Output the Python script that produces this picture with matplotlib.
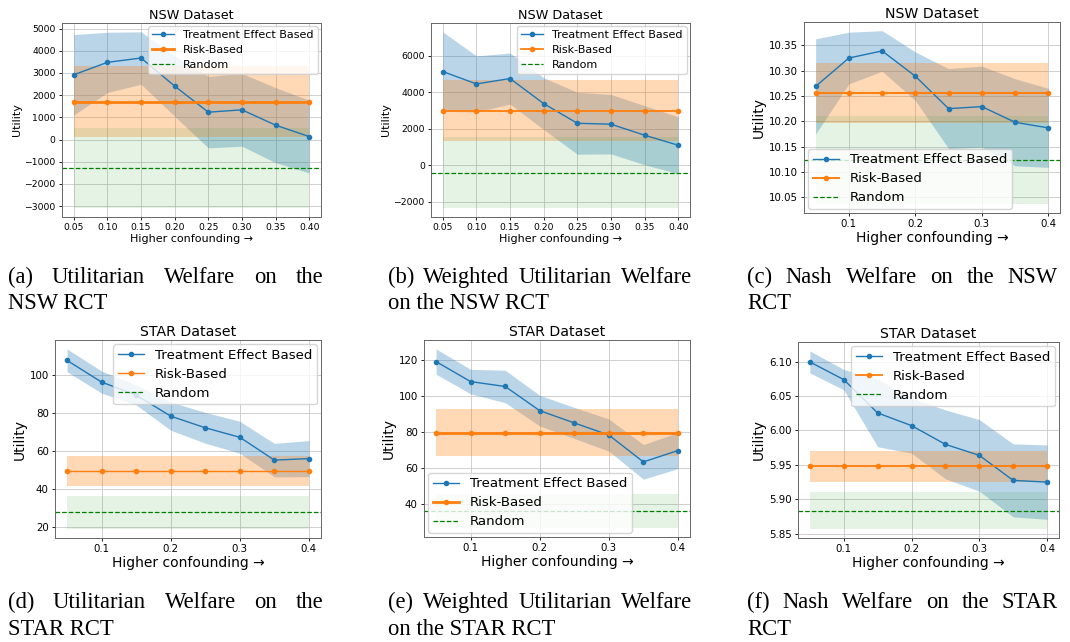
import matplotlib
matplotlib.use('Agg')
import matplotlib.pyplot as plt
from matplotlib.ticker import MultipleLocator
import numpy as np

confounding = [0.05, 0.10, 0.15, 0.20, 0.25, 0.30, 0.35, 0.40]
two_decimal_ticks = ['0.05', '0.10', '0.15', '0.20', '0.25', '0.30', '0.35', '0.40']

# NSW, utilitarian welfare
nsw_util_te = [2920, 3480, 3675, 2410, 1235, 1340, 650, 135]
nsw_util_te_std = [1810, 1355, 1180, 1360, 1610, 1640, 1690, 1640]
nsw_util_risk, nsw_util_risk_std = 1715, 1610
nsw_util_rand, nsw_util_rand_std = -1275, 1815

# NSW, weighted utilitarian welfare
nsw_wutil_te = [5140, 4460, 4755, 3380, 2300, 2250, 1645, 1095]
nsw_wutil_te_std = [2180, 1540, 1400, 1420, 1700, 1630, 1620, 1560]
nsw_wutil_risk, nsw_wutil_risk_std = 2990, 1665
nsw_wutil_rand, nsw_wutil_rand_std = -420, 1940

# NSW, Nash welfare
nsw_nash_te = [10.269, 10.325, 10.339, 10.289, 10.225, 10.229, 10.198, 10.187]
nsw_nash_te_std = [0.094, 0.051, 0.040, 0.048, 0.079, 0.080, 0.086, 0.078]
nsw_nash_risk, nsw_nash_risk_std = 10.256, 0.060
nsw_nash_rand, nsw_nash_rand_std = 10.123, 0.087

# STAR, utilitarian welfare
star_util_te = [107.7, 96.3, 89.5, 78.4, 72.3, 67.3, 55.3, 56.1]
star_util_te_std = [6.0, 5.8, 5.2, 7.4, 8.1, 8.4, 8.8, 9.5]
star_util_risk, star_util_risk_std = 49.6, 7.9
star_util_rand, star_util_rand_std = 27.85, 8.75

# STAR, weighted utilitarian welfare
star_wutil_te = [119.1, 108.0, 105.3, 91.9, 85.1, 78.4, 63.5, 69.8]
star_wutil_te_std = [7.0, 6.8, 9.0, 8.5, 8.6, 8.9, 9.6, 10.0]
star_wutil_risk, star_wutil_risk_std = 79.8, 12.8
star_wutil_rand, star_wutil_rand_std = 36.2, 9.35

# STAR, Nash welfare
star_nash_te = [6.0995, 6.0738, 6.0254, 6.0070, 5.9798, 5.9638, 5.9275, 5.9250]
star_nash_te_std = [0.0160, 0.0148, 0.049, 0.040, 0.050, 0.052, 0.053, 0.054]
star_nash_risk, star_nash_risk_std = 5.9477, 0.022
star_nash_rand, star_nash_rand_std = 5.8837, 0.0269

W, H = 1070, 642

fig = plt.figure(figsize=(W / 100, H / 100), dpi=100)


def add_axes_px(left, top, right, bottom):
    return fig.add_axes([left / W, 1 - bottom / H, (right - left) / W, (bottom - top) / H])


def plot_panel(ax, title, te, te_std, risk, risk_std, rand, rand_std,
               legend_loc, small, two_dec, risk_lw):
    x = np.array(confounding)
    te = np.array(te)
    te_std = np.array(te_std)
    ones = np.ones_like(x)
    if small:
        tick_fs, title_fs, label_fs, legend_fs = 6.7, 9.2, 8.0, 8.0
    else:
        tick_fs, title_fs, label_fs, legend_fs = 7.4, 10.2, 10.0, 9.6

    ax.fill_between(x, te - te_std, te + te_std, color='C0', alpha=0.3, linewidth=0)
    ax.fill_between(x, (risk - risk_std) * ones, (risk + risk_std) * ones,
                    color='C1', alpha=0.3, linewidth=0)
    ax.fill_between(x, (rand - rand_std) * ones, (rand + rand_std) * ones,
                    color='C2', alpha=0.12, linewidth=0)
    ax.plot(x, te, '-o', color='C0', lw=1.0, ms=3, label='Treatment Effect Based')
    ax.plot(x, risk * ones, '-o', color='C1', lw=risk_lw, ms=3, label='Risk-Based')
    ax.axhline(rand, color='green', ls='--', lw=0.9, label='Random')

    ax.set_title(title, fontsize=title_fs, pad=3)
    ax.set_xlabel('Higher confounding \u2192', fontsize=label_fs, labelpad=1)
    ax.set_ylabel('Utility', fontsize=label_fs, labelpad=2)
    if two_dec:
        ax.set_xticks(confounding)
        ax.set_xticklabels(two_decimal_ticks)
    else:
        ax.xaxis.set_major_locator(MultipleLocator(0.1))
    ax.tick_params(labelsize=tick_fs, length=2.5, width=0.6, pad=2)
    ax.grid(True, color='#c8c8c8', linewidth=0.6)
    ax.set_axisbelow(True)
    for spine in ax.spines.values():
        spine.set_linewidth(0.7)
        spine.set_color('#666666')
    ax.legend(loc=legend_loc, fontsize=legend_fs, borderpad=0.35, labelspacing=0.45,
              handletextpad=0.8, borderaxespad=0.3)


panels = [
    ((62, 23, 321, 217), 'NSW Dataset', nsw_util_te, nsw_util_te_std, nsw_util_risk,
     nsw_util_risk_std, nsw_util_rand, nsw_util_rand_std, 'upper right', True, True, 2.0),
    ((431, 23, 690, 217), 'NSW Dataset', nsw_wutil_te, nsw_wutil_te_std, nsw_wutil_risk,
     nsw_wutil_risk_std, nsw_wutil_rand, nsw_wutil_rand_std, 'upper right', True, True, 1.3),
    ((804, 22, 1060, 213), 'NSW Dataset', nsw_nash_te, nsw_nash_te_std, nsw_nash_risk,
     nsw_nash_risk_std, nsw_nash_rand, nsw_nash_rand_std, 'lower left', False, False, 1.4),
    ((55, 340, 321, 538), 'STAR Dataset', star_util_te, star_util_te_std, star_util_risk,
     star_util_risk_std, star_util_rand, star_util_rand_std, 'upper right', False, False, 1.0),
    ((424, 340, 690, 537), 'STAR Dataset', star_wutil_te, star_wutil_te_std, star_wutil_risk,
     star_wutil_risk_std, star_wutil_rand, star_wutil_rand_std, 'lower left', False, False, 2.0),
    ((798, 342, 1059, 538), 'STAR Dataset', star_nash_te, star_nash_te_std, star_nash_risk,
     star_nash_risk_std, star_nash_rand, star_nash_rand_std, 'upper right', False, False, 1.3),
]

for rect, *args in panels:
    ax = add_axes_px(*rect)
    plot_panel(ax, *args)

# sub-figure captions, first line justified like the paper's column text
captions = [
    ('(a) Utilitarian Welfare on the', 'NSW RCT', 8, 323, 283, 309),
    ('(b) Weighted Utilitarian Welfare', 'on the NSW RCT', 388, 692, 283, 309),
    ('(c) Nash Welfare on the NSW', 'RCT', 747, 1058, 283, 309),
    ('(d) Utilitarian Welfare on the', 'STAR RCT', 8, 323, 608, 635),
    ('(e) Weighted Utilitarian Welfare', 'on the STAR RCT', 388, 692, 608, 635),
    ('(f) Nash Welfare on the STAR', 'RCT', 747, 1058, 608, 635),
]
cap_font = dict(family='Liberation Serif', size=16.3, va='baseline', ha='left')
renderer = fig.canvas.get_renderer()
for line1, line2, x0, x1, y1, y2 in captions:
    words = line1.split()
    texts = [fig.text(0, 1 - y1 / H, w, **cap_font) for w in words]
    widths = [t.get_window_extent(renderer).width for t in texts]
    gap = (x1 - x0 - sum(widths)) / (len(words) - 1)
    xpos = x0
    for t, w in zip(texts, widths):
        t.set_x(xpos / W)
        xpos += w + gap
    fig.text(x0 / W, 1 - y2 / H, line2, **cap_font)

fig.savefig('out.png', dpi=100)
